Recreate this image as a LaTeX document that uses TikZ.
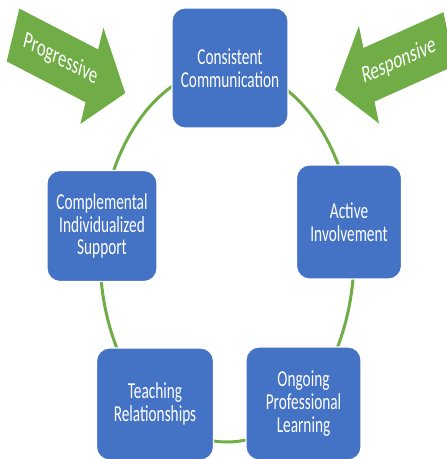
\documentclass[tikz,border=0pt]{standalone}
\usepackage{fontspec}
\setmainfont{Carlito}
\newfontfamily\boxfont[FakeStretch=0.67]{Carlito}
\definecolor{boxblue}{HTML}{4472C4}
\definecolor{ringgreen}{HTML}{70AD47}
\begin{document}
\begin{tikzpicture}[x=0.02cm, y=-0.02cm,
  box/.style={fill=boxblue, draw=white, line width=0.6pt, rounded corners=7.5pt,
    text=white, align=center, inner sep=0pt,
    font=\boxfont\fontsize{13}{13}\selectfont},
  ring/.style={draw=ringgreen, line width=1.7pt},
  bigarrow/.style={fill=ringgreen},
  arrowtext/.style={text=white, transform shape, font=\fontsize{14}{14}\selectfont}]
\useasboundingbox (0,0) rectangle (446,459);
% cycle ring
\draw[ring] (227,255) ellipse [x radius=127, y radius=187];
% boxes
\node[box, minimum width=2.32cm, minimum height=2.40cm] (cc) at (230,68) {Consistent\\Communication};
\node[box, minimum width=2.10cm, minimum height=2.28cm] (ai) at (349,222) {Active\\Involvement};
\node[box, minimum width=2.30cm, minimum height=2.26cm] (op) at (303.5,403.5) {Ongoing\\Professional\\Learning};
\node[box, minimum width=2.34cm, minimum height=2.24cm] (tr) at (155,404) {Teaching\\Relationships};
\node[box, minimum width=2.20cm, minimum height=2.22cm] (ci) at (102,226) {Complemental\\Individualized\\Support};
% Progressive arrow
\begin{scope}[shift={(13,35)}, xscale=0.68, rotate=-19.4]
  \fill[bigarrow] (0,-28) -- (123,-28) -- (123,-51) -- (175,0) -- (123,51) -- (123,28) -- (0,28) -- cycle;
  \node[arrowtext] (prog) at (74,0) {Progressive};
\end{scope}
% Responsive arrow
\begin{scope}[shift={(449,39)}, xscale=0.68, rotate=16.9]
  \fill[bigarrow] (0,-28) -- (-123,-28) -- (-123,-51) -- (-175,0) -- (-123,51) -- (-123,28) -- (0,28) -- cycle;
  \node[arrowtext] (resp) at (-77,0) {Responsive};
\end{scope}
\end{tikzpicture}
\end{document}
